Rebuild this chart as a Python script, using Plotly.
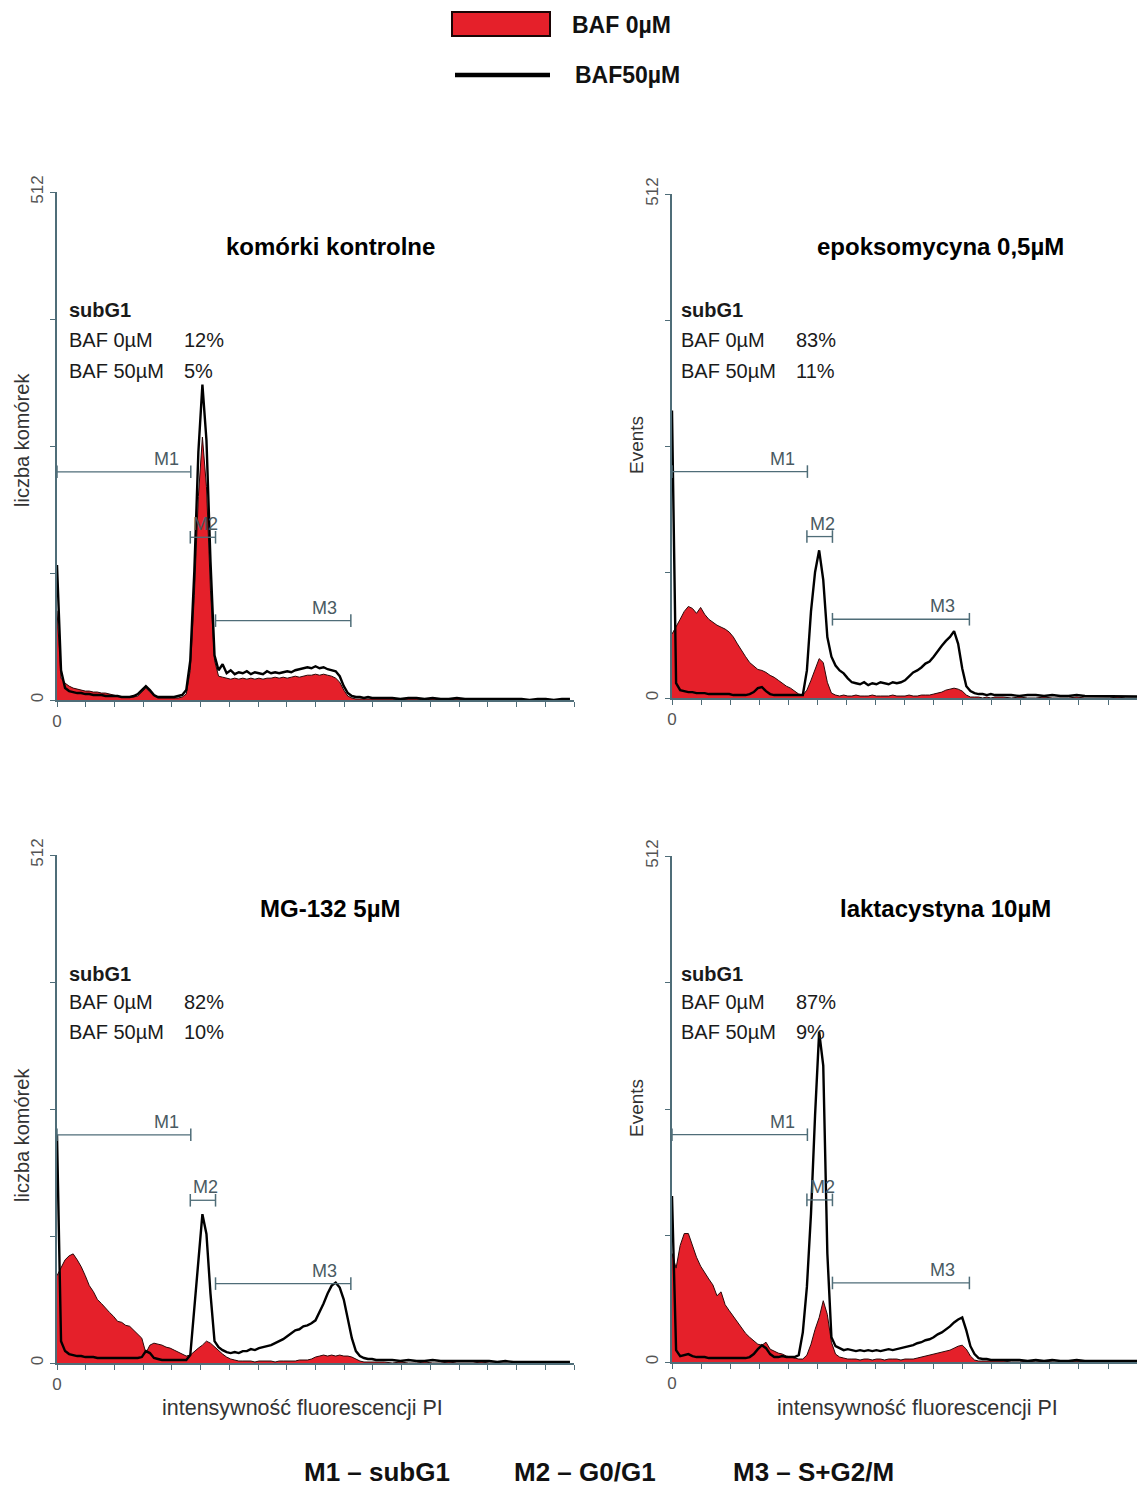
import plotly.graph_objects as go

W, H = 1137, 1486

# ---------------- data ----------------
# histogram channels: step 8 from 0 to 632, then step 16 from 648 to 1016
CHANNELS = list(range(0, 640, 8)) + list(range(648, 1024, 16))

# komórki kontrolne
ctrl_baf0 = [90, 22, 17, 14, 12, 11, 10, 9, 9, 8,
             8, 7, 7, 6, 5, 4, 3, 3, 3, 3,
             4, 8, 12, 8, 4, 2, 2, 2, 2, 2,
             2, 3, 6, 30, 105, 205, 265, 215, 110, 40,
             24, 23, 22, 21, 22, 21, 22, 21, 22, 21,
             22, 21, 22, 22, 23, 22, 23, 22, 23, 24,
             23, 24, 25, 25, 26, 25, 26, 25, 24, 22,
             18, 10, 4, 2, 1, 1, 1, 1, 1, 1,
             1, 1, 0, 1, 1, 0, 1, 0, 0, 1, 0, 0, 1, 0, 0, 0, 1, 0, 0, 0, 0, 0, 0, 0]
ctrl_baf50 = [136, 30, 12, 9, 8, 7, 7, 6, 6, 5,
              5, 5, 4, 4, 4, 4, 3, 3, 3, 4,
              6, 10, 14, 10, 5, 3, 3, 3, 3, 3,
              4, 5, 10, 40, 130, 250, 318, 262, 140, 45,
              30, 36, 27, 30, 26, 28, 27, 29, 26, 28,
              27, 26, 29, 27, 28, 27, 28, 29, 28, 30,
              31, 32, 33, 32, 34, 32, 33, 31, 30, 29,
              24, 14, 7, 4, 3, 3, 2, 3, 2, 2,
              2, 2, 1, 2, 2, 1, 2, 1, 1, 2, 1, 1, 1, 1, 1, 1, 1, 1, 0, 1, 1, 0, 1, 1]

# epoksomycyna 0,5µM
epo_baf0 = [65, 72, 80, 88, 93, 91, 86, 92, 85, 80,
            77, 74, 72, 70, 67, 62, 55, 48, 42, 36,
            32, 29, 28, 26, 23, 21, 18, 15, 12, 10,
            7, 4, 3, 8, 18, 30, 40, 36, 16, 5,
            3, 2, 3, 2, 2, 3, 2, 2, 2, 3,
            2, 2, 2, 2, 3, 2, 2, 2, 3, 2,
            2, 3, 3, 3, 4, 5, 6, 8, 9, 10,
            9, 7, 3, 1, 1, 1, 0, 1, 0, 1,
            1, 0, 1, 0, 0, 1, 0, 0, 0, 1, 0, 0, 0, 0, 1, 0, 0, 0, 0, 0, 0, 0, 0, 0]
epo_baf50 = [292, 15, 8, 7, 6, 6, 5, 5, 5, 4,
             4, 4, 4, 4, 4, 3, 3, 3, 3, 4,
             6, 10, 11, 7, 4, 3, 3, 3, 3, 3,
             3, 3, 3, 28, 88, 128, 150, 120, 62, 42,
             33, 28, 25, 20, 16, 15, 14, 16, 13, 15,
             14, 16, 15, 14, 16, 15, 16, 18, 22, 26,
             28, 31, 35, 37, 42, 48, 53, 58, 62, 68,
             55, 30, 12, 7, 5, 4, 4, 3, 4, 3,
             3, 3, 2, 3, 3, 2, 3, 2, 2, 3, 2, 2, 2, 2, 2, 2, 2, 2, 2, 1, 1, 1, 1, 1]

# MG-132 5µM
mg_baf0 = [88, 96, 104, 108, 110, 104, 97, 88, 78, 72,
           64, 60, 55, 51, 47, 42, 41, 38, 37, 33,
           30, 25, 10, 18, 20, 19, 18, 16, 15, 13,
           11, 9, 7, 8, 12, 15, 18, 22, 20, 16,
           12, 9, 6, 4, 3, 2, 2, 2, 2, 1,
           2, 2, 2, 2, 1, 2, 2, 2, 2, 2,
           3, 3, 3, 4, 6, 7, 8, 7, 8, 7,
           8, 7, 7, 6, 4, 2, 1, 1, 1, 1,
           1, 0, 1, 0, 0, 1, 0, 0, 1, 0, 0, 0, 1, 0, 0, 0, 0, 0, 0, 0, 0, 0, 0, 0]
mg_baf50 = [230, 22, 12, 9, 8, 7, 7, 6, 6, 6,
            5, 5, 5, 5, 5, 5, 5, 5, 5, 5,
            5, 6, 12, 10, 5, 4, 3, 3, 3, 3,
            3, 3, 3, 8, 55, 110, 150, 130, 70, 22,
            16, 13, 11, 10, 11, 10, 12, 12, 14, 13,
            15, 16, 17, 18, 20, 22, 24, 27, 30, 33,
            34, 37, 38, 40, 43, 51, 60, 70, 78, 81,
            76, 64, 45, 25, 12, 7, 5, 4, 4, 3,
            3, 3, 2, 3, 2, 2, 3, 2, 2, 2, 2, 2, 2, 2, 1, 2, 1, 1, 1, 1, 1, 1, 1, 1]

# laktacystyna 10µM
lak_baf0 = [110, 95, 118, 130, 130, 118, 106, 97, 90, 84,
            78, 67, 71, 58, 52, 46, 40, 34, 29, 25,
            21, 18, 17, 20, 13, 11, 9, 8, 6, 5,
            4, 3, 3, 7, 18, 33, 45, 62, 48, 20,
            8, 5, 4, 3, 3, 3, 2, 3, 3, 2,
            3, 3, 2, 3, 3, 3, 2, 3, 3, 3,
            4, 5, 6, 7, 8, 9, 10, 11, 12, 14,
            16, 17, 13, 6, 2, 1, 1, 1, 1, 1,
            1, 0, 0, 1, 0, 1, 0, 0, 0, 1, 0, 0, 0, 0, 0, 1, 0, 0, 0, 0, 0, 0, 0, 0]
lak_baf50 = [168, 12, 6, 7, 8, 6, 5, 5, 5, 4,
             4, 4, 4, 4, 4, 4, 4, 4, 4, 5,
             8, 13, 17, 14, 8, 5, 5, 6, 5, 5,
             5, 7, 30, 76, 150, 250, 334, 300, 110, 25,
             16, 14, 12, 13, 12, 11, 12, 11, 12, 11,
             12, 11, 12, 13, 12, 13, 14, 15, 16, 17,
             19, 20, 22, 23, 25, 28, 30, 33, 36, 40,
             43, 45, 32, 16, 8, 4, 3, 3, 2, 2,
             2, 2, 2, 1, 2, 1, 2, 1, 1, 2, 1, 1, 1, 1, 1, 1, 1, 1, 1, 1, 1, 1, 1, 1]

PANEL_TITLES = ["komórki kontrolne", "epoksomycyna 0,5µM", "MG-132 5µM", "laktacystyna 10µM"]
SUBG1_BAF0 = ["12%", "83%", "82%", "87%"]
SUBG1_BAF50 = ["5%", "11%", "10%", "9%"]
Y_TITLES = ["liczba komórek", "Events", "liczba komórek", "Events"]
SERIES = [(ctrl_baf0, ctrl_baf50), (epo_baf0, epo_baf50), (mg_baf0, mg_baf50), (lak_baf0, lak_baf50)]

# region markers (channel start, channel end, height in events)
M_NAMES = ["M1", "M2", "M3"]
M_START = [0, 264, 314]
M_END = [265, 314, 582]
M_LEVEL = [230, 164, 80]
M_LABEL_X = [216, 294, 530]

Y_MAX = 512
Y_TICKS = [0, 128, 256, 384, 512]
N_XTICKS = 18
X_FULL = 1024

for a, b in SERIES:
    assert len(a) == len(CHANNELS) and len(b) == len(CHANNELS), (len(a), len(b))

# ---------------- layout helpers ----------------
def px(x):
    return x / W

def py(y):
    return 1 - y / H

FONT = "Liberation Sans, Arial, sans-serif"
RED = "#e5202a"
AXC = "#4f6d78"

# panel pixel boxes: (left, right, top, bottom, x-range-end)
PANELS = [
    (57, 574, 192, 700, 1024),
    (672, 1137, 194, 698, 910),
    (57, 574, 855, 1363, 1024),
    (672, 1137, 856, 1362, 910),
]

fig = go.Figure()
layout_axes = {}
annotations = []

for i, (box, (s0, s50)) in enumerate(zip(PANELS, SERIES)):
    l, r, t, b, xend = box
    n = i + 1
    xa = "x" if n == 1 else f"x{n}"
    ya = "y" if n == 1 else f"y{n}"
    fig.add_trace(go.Scatter(x=CHANNELS, y=s0, xaxis=xa, yaxis=ya, mode="lines",
                             line=dict(color="#2a0808", width=1), fill="tozeroy",
                             fillcolor=RED, showlegend=False, hoverinfo="skip"))
    fig.add_trace(go.Scatter(x=CHANNELS, y=s50, xaxis=xa, yaxis=ya, mode="lines",
                             line=dict(color="black", width=2.4), showlegend=False,
                             hoverinfo="skip"))
    for k in range(3):
        fig.add_trace(go.Scatter(x=[M_START[k], M_END[k]], y=[M_LEVEL[k], M_LEVEL[k]],
                                 xaxis=xa, yaxis=ya, mode="lines+markers",
                                 line=dict(color=AXC, width=1.3),
                                 marker=dict(symbol="line-ns-open", size=9,
                                             line=dict(color=AXC, width=1.5)),
                                 showlegend=False, hoverinfo="skip"))
        annotations.append(dict(x=M_LABEL_X[k], y=M_LEVEL[k], xref=xa, yref=ya,
                                text=M_NAMES[k], showarrow=False, yanchor="bottom",
                                yshift=1, font=dict(family=FONT, size=18, color="#4a5a62")))
    xticks = [j * X_FULL / N_XTICKS for j in range(N_XTICKS + 1)]
    xticks = [v for v in xticks if v <= xend]
    layout_axes["xaxis" if n == 1 else f"xaxis{n}"] = dict(
        domain=[px(l), px(r)], range=[0, xend], anchor=ya, showgrid=False, zeroline=False,
        automargin=False,
        showline=True, linecolor=AXC, linewidth=1.5, ticks="outside", ticklen=5,
        tickcolor=AXC, tickwidth=1.2, tickvals=xticks,
        ticktext=["0"] + [""] * (len(xticks) - 1),
        tickfont=dict(family=FONT, size=17, color="#555"))
    layout_axes["yaxis" if n == 1 else f"yaxis{n}"] = dict(
        domain=[py(b), py(t)], range=[0, Y_MAX], anchor=xa, showgrid=False, zeroline=False,
        automargin=False,
        showline=True, linecolor=AXC, linewidth=1.5, ticks="outside", ticklen=5,
        tickcolor=AXC, tickwidth=1.2, tickvals=Y_TICKS,
        ticktext=["0", "", "", "", "512"], tickangle=-90,
        tickfont=dict(family=FONT, size=17, color="#555"))

# panel titles
TITLE_POS = [(330, 246), (940, 246), (330, 908), (945, 908)]
for txt, (x, y) in zip(PANEL_TITLES, TITLE_POS):
    annotations.append(dict(x=px(x), y=py(y), xref="paper", yref="paper", text=f"<b>{txt}</b>",
                            showarrow=False, xanchor="center", yanchor="middle",
                            font=dict(family=FONT, size=24, color="black")))

# subG1 blocks
BLOCK_POS = [(67, (310, 340, 371)), (679, (310, 340, 371)), (67, (974, 1002, 1032)), (679, (974, 1002, 1032))]
for (x0, ys), p0, p50 in zip(BLOCK_POS, SUBG1_BAF0, SUBG1_BAF50):
    items = [("<b>subG1</b>", x0, ys[0]), ("BAF 0µM", x0, ys[1]), (p0, x0 + 115, ys[1]),
             ("BAF 50µM", x0, ys[2]), (p50, x0 + 115, ys[2])]
    for txt, x, y in items:
        annotations.append(dict(x=px(x), y=py(y), xref="paper", yref="paper", text=txt,
                                showarrow=False, xanchor="left", yanchor="middle",
                                font=dict(family=FONT, size=20, color="#1a1a1a")))

# axis titles
YT_POS = [(22, 440), (636, 445), (22, 1135), (636, 1108)]
for txt, (x, y) in zip(Y_TITLES, YT_POS):
    annotations.append(dict(x=px(x), y=py(y), xref="paper", yref="paper", text=txt,
                            showarrow=False, textangle=-90, xanchor="center", yanchor="middle",
                            font=dict(family=FONT, size=20 if txt != "Events" else 19, color="#333")))
for x in (302, 917):
    annotations.append(dict(x=px(x), y=py(1408), xref="paper", yref="paper",
                            text="intensywność fluorescencji PI", showarrow=False,
                            xanchor="center", yanchor="middle",
                            font=dict(family="Liberation Sans Narrow, Liberation Sans, Arial", size=21.5, color="#333")))

# bottom key
for txt, x in (("M1 – subG1", 377), ("M2 – G0/G1", 585), ("M3 – S+G2/M", 813)):
    annotations.append(dict(x=px(x), y=py(1472), xref="paper", yref="paper", text=f"<b>{txt}</b>",
                            showarrow=False, xanchor="center", yanchor="middle",
                            font=dict(family=FONT, size=26, color="#111")))

# legend
annotations.append(dict(x=px(570), y=py(25), xref="paper", yref="paper", text="<b>BAF 0µM</b>",
                        showarrow=False, xanchor="left", yanchor="middle",
                        font=dict(family=FONT, size=23, color="#111")))
annotations.append(dict(x=px(573), y=py(75), xref="paper", yref="paper", text="<b>BAF50µM</b>",
                        showarrow=False, xanchor="left", yanchor="middle",
                        font=dict(family=FONT, size=23, color="#111")))
shapes = [
    dict(type="rect", xref="paper", yref="paper", x0=px(452), x1=px(550), y0=py(36), y1=py(12),
         fillcolor=RED, line=dict(color="#1a0505", width=2)),
    dict(type="line", xref="paper", yref="paper", x0=px(455), x1=px(550), y0=py(75), y1=py(75),
         line=dict(color="black", width=4.5)),
]

fig.update_layout(width=W, height=H, margin=dict(l=0, r=0, t=0, b=0, pad=0), autosize=False,
                  paper_bgcolor="white", plot_bgcolor="white", showlegend=False,
                  annotations=annotations, shapes=shapes, **layout_axes)

fig.write_html("out.html", config={"responsive": False, "displayModeBar": False},
               post_script="document.body.style.margin='0';document.body.style.padding='0';"
                           "document.body.style.overflow='hidden';")
